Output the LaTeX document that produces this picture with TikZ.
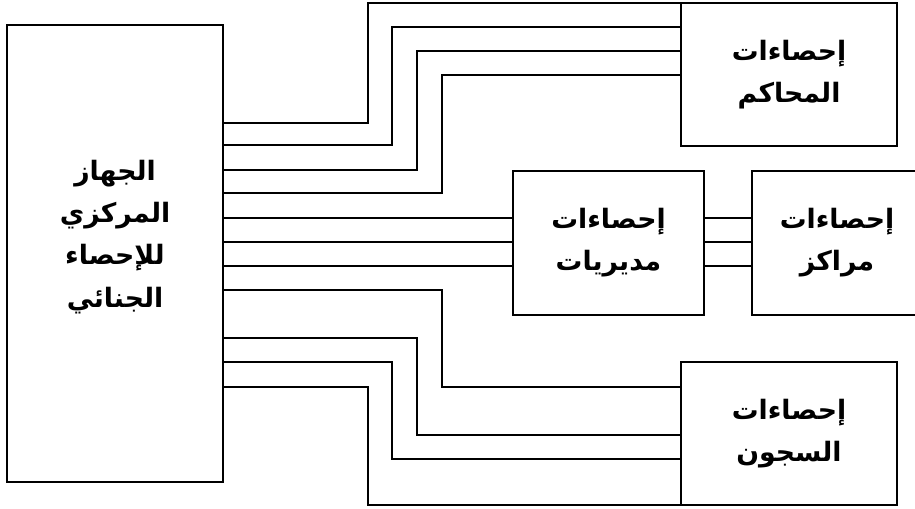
\documentclass[tikz,border=0pt]{standalone}
\usepackage{fontspec}
\newfontfamily\arabicfont[Script=Arabic]{DejaVu Sans}
\TeXXeTstate=1
\usetikzlibrary{positioning}

\tikzset{
  box/.style={draw, line width=1.4pt, inner sep=0pt},
  wire/.style={line width=1.4pt},
  arlabel/.style={align=center, inner sep=0pt, font=\arabicfont\bfseries\fontsize{19}{30}\selectfont}
}

\begin{document}
\begin{tikzpicture}[x=0.025cm, y=-0.025cm]
\useasboundingbox (0,0) rectangle (915,508);
\clip (0,0) rectangle (915,508);

% Boxes
\node[box, minimum width=5.4cm, minimum height=11.425cm] (main) at (115,253.5) {};
\node[arlabel] (mainText) at (115,237) {\beginR الجهاز\endR\\\beginR المركزي\endR\\\beginR للإحصاء\endR\\\beginR الجنائي\endR};
\node[box, arlabel, minimum width=5.4cm, minimum height=3.575cm] (courts) at (789,74.5) {\beginR إحصاءات\endR\\\beginR المحاكم\endR};
\node[box, arlabel, minimum width=4.775cm, minimum height=3.6cm] (dirs) at (608.5,243) {\beginR إحصاءات\endR\\\beginR مديريات\endR};
\node[box, arlabel, minimum width=4.25cm, minimum height=3.6cm] (centers) at (837,243) {\beginR إحصاءات\endR\\\beginR مراكز\endR};
\node[box, arlabel, minimum width=5.4cm, minimum height=3.575cm] (prisons) at (789,433.5) {\beginR إحصاءات\endR\\\beginR السجون\endR};

% Wires to courts
\draw[wire] (main.east |- 0,123) -| (368,3) -- (courts.west |- 0,3);
\draw[wire] (main.east |- 0,145) -| (392,27) -- (courts.west |- 0,27);
\draw[wire] (main.east |- 0,170) -| (417,51) -- (courts.west |- 0,51);
\draw[wire] (main.east |- 0,193) -| (442,75) -- (courts.west |- 0,75);

% Wires to directorates and centers
\draw[wire] (main.east |- 0,218) -- (dirs.west |- 0,218);
\draw[wire] (main.east |- 0,242) -- (dirs.west |- 0,242);
\draw[wire] (main.east |- 0,266) -- (dirs.west |- 0,266);
\draw[wire] (dirs.east |- 0,218) -- (centers.west |- 0,218);
\draw[wire] (dirs.east |- 0,242) -- (centers.west |- 0,242);
\draw[wire] (dirs.east |- 0,266) -- (centers.west |- 0,266);

% Wires to prisons
\draw[wire] (main.east |- 0,290) -| (442,387) -- (prisons.west |- 0,387);
\draw[wire] (main.east |- 0,338) -| (417,435) -- (prisons.west |- 0,435);
\draw[wire] (main.east |- 0,362) -| (392,459) -- (prisons.west |- 0,459);
\draw[wire] (main.east |- 0,387) -| (368,505) -- (prisons.west |- 0,505);
\end{tikzpicture}
\end{document}
